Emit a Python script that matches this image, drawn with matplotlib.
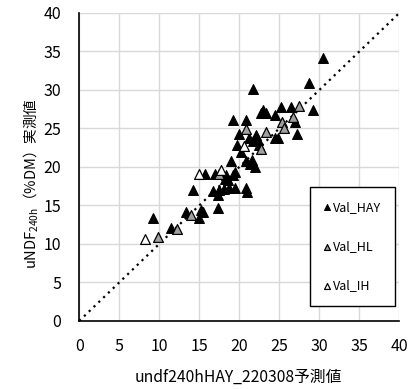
import matplotlib
matplotlib.use('Agg')
import matplotlib.pyplot as plt

plt.rcParams['font.family'] = ['Noto Sans CJK JP', 'DejaVu Sans']
plt.rcParams['mathtext.fontset'] = 'custom'
plt.rcParams['mathtext.rm'] = 'Noto Sans CJK JP'
plt.rcParams['mathtext.it'] = 'Noto Sans CJK JP'
plt.rcParams['mathtext.bf'] = 'Noto Sans CJK JP'
plt.rcParams['mathtext.default'] = 'regular'

# Val_HAY (black)
hay_x = [30.4, 28.75, 21.7, 29.2, 22.9, 22.7, 23.3, 25.2, 26.5, 24.4, 26.9, 27.2,
         19.2, 20.8, 24.4, 24.8, 19.9, 21.25, 22.1, 21.7, 22.3, 19.7, 22.4, 20.2,
         19.0, 20.8, 21.3, 21.9, 21.6, 15.75, 16.9, 18.3, 19.2, 19.4, 18.2, 18.6,
         14.25, 16.7, 17.5, 18.1, 18.7, 19.4, 17.3, 20.8, 20.9, 13.3, 15.2, 15.4,
         15.0, 17.3, 9.25, 11.5]
hay_y = [34.2, 30.9, 30.1, 27.4, 27.4, 27.0, 27.0, 27.8, 27.8, 26.8, 25.8, 24.3,
         26.1, 26.1, 23.8, 23.8, 24.3, 23.7, 24.2, 23.3, 23.5, 22.9, 22.9, 21.9,
         20.8, 20.7, 20.4, 20.0, 20.9, 19.1, 19.1, 19.0, 19.0, 19.4, 18.4, 18.3,
         17.0, 16.9, 17.0, 17.1, 17.2, 17.2, 16.4, 17.2, 16.8, 14.2, 14.4, 14.2,
         13.3, 14.6, 13.4, 12.0]

# Val_HL (gray)
hl_x = [27.4, 26.7, 25.3, 25.6, 20.8, 23.3, 22.7, 17.5, 14.0, 12.2, 9.8]
hl_y = [27.9, 26.5, 25.8, 25.0, 24.9, 24.5, 22.3, 19.1, 13.7, 11.9, 10.9]

# Val_IH (white)
ih_x = [8.25, 14.9, 17.7, 20.6]
ih_y = [10.7, 19.1, 19.6, 22.7]

ticks = [0, 5, 10, 15, 20, 25, 30, 35, 40]

fig = plt.figure(figsize=(4.17, 3.89), dpi=100)
ax = fig.add_axes([0.19, 0.175, 0.768, 0.792])

ax.plot([0, 40], [0, 40], color='black', linestyle=(0, (1, 2)), linewidth=1.6, zorder=2)

ax.scatter(hay_x, hay_y, marker='^', s=50, facecolor='black', edgecolor='black',
           linewidth=0.8, label='Val_HAY', zorder=3)
ax.scatter(hl_x, hl_y, marker='^', s=50, facecolor='#a0a0a0', edgecolor='black',
           linewidth=0.9, label='Val_HL', zorder=4)
ax.scatter(ih_x, ih_y, marker='^', s=50, facecolor='white', edgecolor='black',
           linewidth=0.9, label='Val_IH', zorder=5)

ax.set_xlim(0, 40)
ax.set_ylim(0, 40)
ax.set_xticks(ticks)
ax.set_yticks(ticks)
ax.grid(True, color='#d9d9d9', linewidth=1)
ax.set_axisbelow(True)
ax.spines['top'].set_visible(False)
ax.spines['right'].set_visible(False)
ax.spines['left'].set_linewidth(1.2)
ax.spines['bottom'].set_linewidth(1.2)
ax.tick_params(axis='both', length=0, labelsize=11.5)
ax.tick_params(axis='x', pad=12)
ax.tick_params(axis='y', pad=13)

ax.set_xlabel('undf240hHAY_220308予測値', fontsize=11.3)
ax.xaxis.set_label_coords(0.497, -0.155)
ax.set_ylabel('uNDF$_{240h}$（%DM）実測値', fontsize=10.5)
ax.yaxis.set_label_coords(-0.12, 0.445)

leg = ax.legend(loc='lower right', bbox_to_anchor=(0.987, 0.049), fontsize=9,
                markerscale=0.6, labelspacing=2.1, borderpad=1.1,
                handlelength=0.6, handletextpad=0.2, fancybox=False,
                framealpha=1, edgecolor='black', borderaxespad=0)
leg.get_frame().set_linewidth(1.0)

fig.savefig('out.png', dpi=100)
